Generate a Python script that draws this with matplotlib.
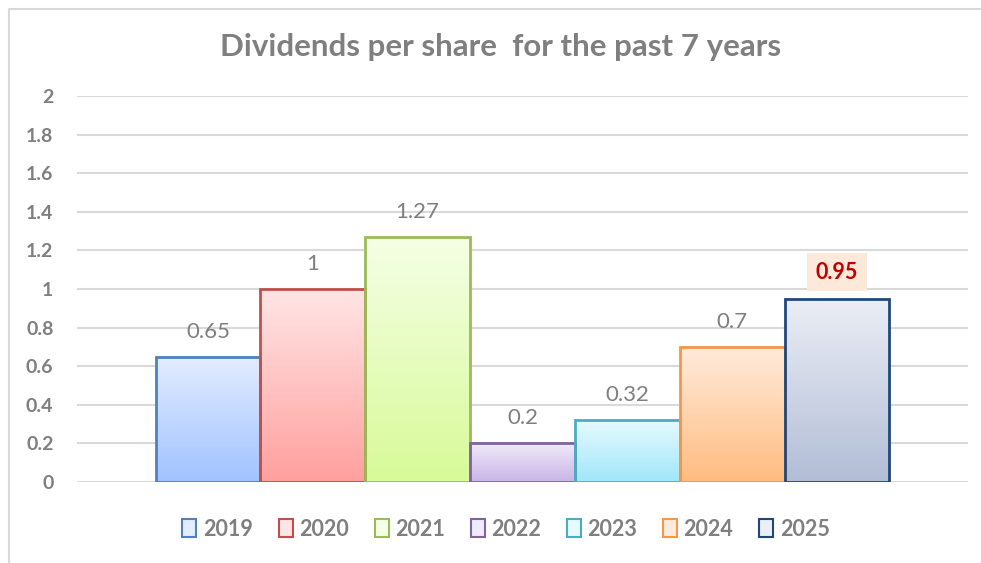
import numpy as np
import matplotlib.pyplot as plt
from matplotlib.colors import LinearSegmentedColormap
from matplotlib.patches import Rectangle, Patch
from matplotlib.lines import Line2D

plt.rcParams['font.family'] = ['Lato', 'DejaVu Sans']

years = ['2019', '2020', '2021', '2022', '2023', '2024', '2025']
dividends = [0.65, 1, 1.27, 0.2, 0.32, 0.7, 0.95]

edge_colors = ['#4F81BD', '#C0504D', '#9BBB59', '#8064A2', '#4BACC6', '#F79646', '#1F497D']
top_colors = ['#E3EDFF', '#FFE5E5', '#F5FFE6', '#F0EBFA', '#E6FAFF', '#FFEBDC', '#EBEEF5']
bottom_colors = ['#A0C2FF', '#FFA09E', '#D8FA98', '#C8B4E6', '#A0E6FA', '#FFBC80', '#B2BDD6']

gray = '#7F7F7F'

fig = plt.figure(figsize=(9.81, 5.63), dpi=100)
ax = fig.add_axes([77 / 981, 1 - 482 / 563, 891 / 981, 386 / 563])

# chart border (only the left and top edges show, the rest is cropped)
fig.lines.append(Line2D([8.5 / 981, 8.5 / 981, 1], [0, 1 - 9 / 563, 1 - 9 / 563],
                        transform=fig.transFigure, color='#D9D9D9', linewidth=1.5))

gap = 0.75
x0 = gap + np.arange(len(years))
for i, (yr, v) in enumerate(zip(years, dividends)):
    cmap = LinearSegmentedColormap.from_list(yr, [bottom_colors[i], top_colors[i]])
    grad = np.linspace(0, 1, 256).reshape(-1, 1)
    ax.imshow(grad, extent=[x0[i], x0[i] + 1, 0, v], origin='lower', cmap=cmap,
              aspect='auto', zorder=2)
    ax.add_patch(Rectangle((x0[i], 0), 1, v, fill=False, edgecolor=edge_colors[i],
                           linewidth=2, zorder=3))
    if yr == '2025':
        ax.annotate(f'{v:g}', (x0[i] + 0.5, v), xytext=(0, 19), textcoords='offset points',
                    ha='center', va='center', fontsize=15.5, fontweight='bold',
                    color='#C00000',
                    bbox=dict(boxstyle='square,pad=0.4', facecolor='#FDE9D9',
                              edgecolor='none'))
    else:
        ax.annotate(f'{v:g}', (x0[i] + 0.5, v), xytext=(0, 18), textcoords='offset points',
                    ha='center', va='center', fontsize=16, color=gray)

ax.set_xlim(0, len(years) + 2 * gap)
ax.set_ylim(0, 2)
ax.set_yticks(np.arange(0, 2.01, 0.2))
ax.set_yticklabels([f'{t:g}' for t in np.arange(0, 2.01, 0.2)])
ax.set_xticks([])
ax.tick_params(axis='y', length=0, pad=17, labelsize=14, labelcolor=gray)
for lbl in ax.get_yticklabels():
    lbl.set_fontweight('bold')
ax.grid(axis='y', color='#D9D9D9', linewidth=1.5, zorder=0)
ax.set_axisbelow(True)
for s in ax.spines.values():
    s.set_visible(False)

fig.text(501 / 981, 1 - 47 / 563, 'Dividends per share  for the past 7 years',
         ha='center', va='center', fontsize=22.5, fontweight='bold', color=gray)

handles = [Patch(facecolor=top_colors[i], edgecolor=edge_colors[i], linewidth=1.5)
           for i in range(len(years))]
leg = fig.legend(handles, years, loc='center', bbox_to_anchor=(506 / 981, 1 - 529 / 563),
                 ncol=len(years), frameon=False, handlelength=0.65, handleheight=0.9,
                 handletextpad=0.3, columnspacing=1.2,
                 prop={'weight': 'bold', 'size': 15.5})
for t in leg.get_texts():
    t.set_color(gray)

fig.savefig('out.png', dpi=100)
